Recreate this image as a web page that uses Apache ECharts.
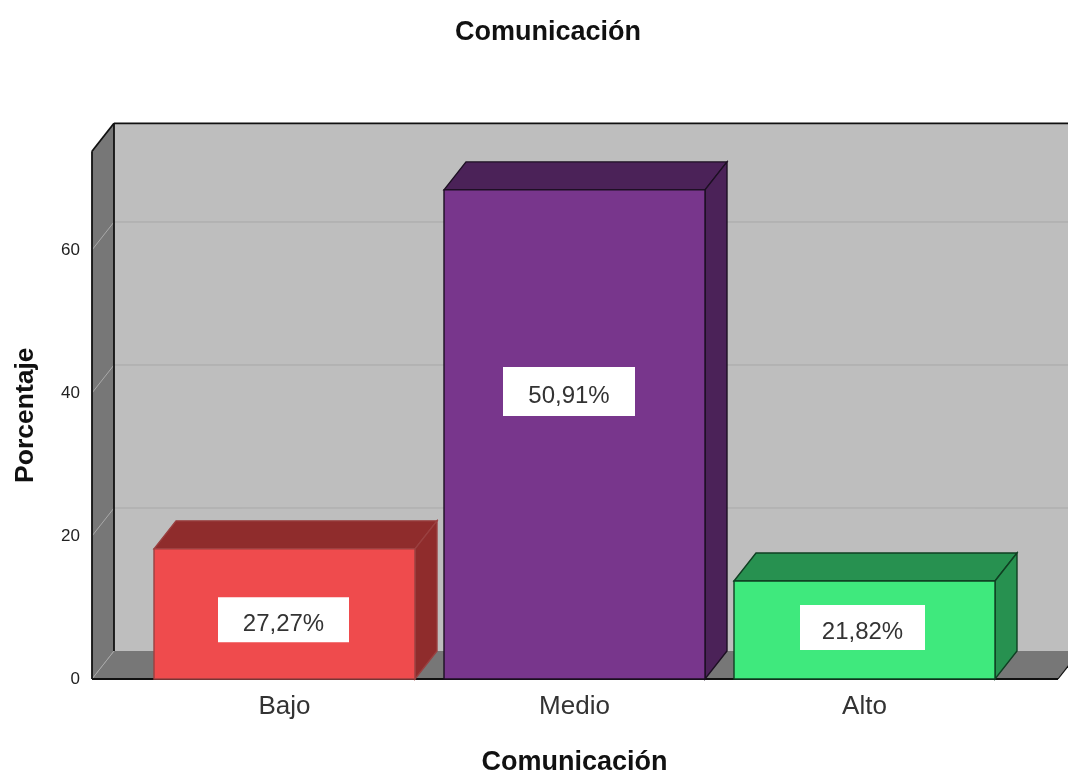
<!DOCTYPE html>
<html>
<head>
<meta charset="utf-8">
<style>html,body{margin:0;padding:0;background:#fff}#c{width:1068px;height:772px}</style>
<script src="https://cdn.jsdelivr.net/npm/echarts@6/dist/echarts.min.js"></script>
</head>
<body>
<div id="c"></div>
<script>
const chartTitle = 'Comunicación';
const categories = ['Bajo', 'Medio', 'Alto'];
const barValues = [18.2, 68.4, 13.7];
const barLabels = ['27,27%', '50,91%', '21,82%'];
const labelValues = [8.3, 40.2, 7.2];
const yTicks = [0, 20, 40, 60];
const yMax = 73.8;
const faceColors = ['#ef4b4d', '#78368c', '#3fe97d'];
const shadeColors = ['#8f2c2c', '#4b2258', '#279150'];
const edgeColors = ['#9a4040', '#1c0f22', '#0f3f22'];
const labelShift = [-1, -5.5, -2];
const labelBoxW = [131, 132, 125];
const labelBoxH = [45, 49, 45];

const DX = 22, DY = -28, BAR_W = 261;
const WALL_L = 92, WALL_R = 1058;
const FONT = '"Liberation Sans", Arial, sans-serif';

function renderWalls(params, api) {
  const y0 = api.coord([0, 0])[1];
  const yT = api.coord([0, yMax])[1];
  const line = (x1, y1, x2, y2, stroke, lw) => ({
    type: 'line', shape: { x1, y1, x2, y2 },
    style: { stroke, lineWidth: lw }, silent: true
  });
  const poly = (points, fill) => ({
    type: 'polygon', shape: { points }, style: { fill }, silent: true
  });
  const children = [
    poly([[WALL_L + DX, yT + DY], [1068, yT + DY], [1068, y0 + DY], [WALL_L + DX, y0 + DY]], '#bebebe'),
    poly([[WALL_L, yT], [WALL_L + DX, yT + DY], [WALL_L + DX, y0 + DY], [WALL_L, y0]], '#777777'),
    poly([[WALL_L, y0], [WALL_L + DX, y0 + DY], [WALL_R + DX, y0 + DY], [WALL_R, y0]], '#777777')
  ];
  yTicks.forEach((t) => {
    const y = api.coord([0, t])[1];
    if (t > 0) children.push(line(WALL_L + DX, y + DY, 1068, y + DY, '#a9a9a9', 1));
    children.push(line(WALL_L, y, WALL_L + DX, y + DY, '#a9a9a9', 1));
  });
  children.push(
    line(WALL_L + DX, yT + DY, 1068, yT + DY, '#111', 1.8),
    line(WALL_L + DX, yT + DY, WALL_L + DX, y0 + DY, '#111', 1.8),
    line(WALL_L, yT, WALL_L + DX, yT + DY, '#111', 1.8),
    line(WALL_L, yT, WALL_L, y0, '#111', 1.8),
    line(WALL_L, y0, WALL_R, y0, '#111', 1.8),
    line(WALL_R, y0, WALL_R + DX, y0 + DY, '#111', 1.2)
  );
  return { type: 'group', children };
}

function renderBar(params, api) {
  const i = params.dataIndex;
  const c = api.coord([api.value(0), api.value(1)]);
  const y0 = api.coord([api.value(0), 0])[1];
  const l = c[0] - BAR_W / 2, r = c[0] + BAR_W / 2, t = c[1];
  const edge = { stroke: edgeColors[i], lineWidth: 1.4 };
  const poly = (points, fill) => ({
    type: 'polygon', shape: { points },
    style: Object.assign({ fill }, edge)
  });
  const ly = api.coord([api.value(0), labelValues[i]])[1];
  const lx = c[0] + labelShift[i];
  return {
    type: 'group',
    children: [
      poly([[l, t], [l + DX, t + DY], [r + DX, t + DY], [r, t]], shadeColors[i]),
      poly([[r, t], [r + DX, t + DY], [r + DX, y0 + DY], [r, y0]], shadeColors[i]),
      poly([[l, t], [r, t], [r, y0], [l, y0]], faceColors[i]),
      {
        type: 'rect',
        shape: { x: lx - labelBoxW[i] / 2, y: ly - labelBoxH[i] / 2, width: labelBoxW[i], height: labelBoxH[i] },
        style: { fill: '#ffffff' }
      },
      {
        type: 'text',
        style: {
          x: lx, y: ly + 5, text: barLabels[i], align: 'center', verticalAlign: 'middle',
          fill: '#333', font: '24px ' + FONT
        }
      }
    ]
  };
}

const chart = echarts.init(document.getElementById('c'), null, { renderer: 'canvas' });
chart.setOption({
  animation: false,
  backgroundColor: '#ffffff',
  title: {
    text: chartTitle, left: 450, top: 14,
    textStyle: { fontFamily: FONT, fontSize: 27, fontWeight: 'bold', color: '#111' }
  },
  grid: { left: 139.5, width: 870, top: 151.3, height: 527.7, outerBoundsMode: 'none', containLabel: false },
  xAxis: {
    type: 'category', data: categories,
    axisLine: { show: false }, axisTick: { show: false }, splitLine: { show: false },
    axisLabel: { fontFamily: FONT, fontSize: 26, color: '#333', margin: 15 },
    name: chartTitle, nameLocation: 'middle', nameGap: 70,
    nameTextStyle: { fontFamily: FONT, fontSize: 27, fontWeight: 'bold', color: '#111' }
  },
  yAxis: {
    type: 'value', min: 0, max: yMax, interval: 20, offset: 47.5,
    axisLine: { show: false }, axisTick: { show: false }, splitLine: { show: false },
    axisLabel: { fontFamily: FONT, fontSize: 17, color: '#222', margin: 12, showMaxLabel: false },
    name: 'Porcentaje', nameLocation: 'middle', nameGap: 53, nameRotate: 90,
    nameTextStyle: { fontFamily: FONT, fontSize: 26.5, fontWeight: 'bold', color: '#111' }
  },
  series: [
    { type: 'custom', renderItem: renderWalls, data: [[0, 0]], encode: { x: 0, y: 1 }, clip: false, silent: true, z: 1 },
    { type: 'custom', renderItem: renderBar, data: barValues.map((v, i) => [i, v]), encode: { x: 0, y: 1 }, clip: false, z: 2 }
  ]
});
</script>
</body>
</html>
